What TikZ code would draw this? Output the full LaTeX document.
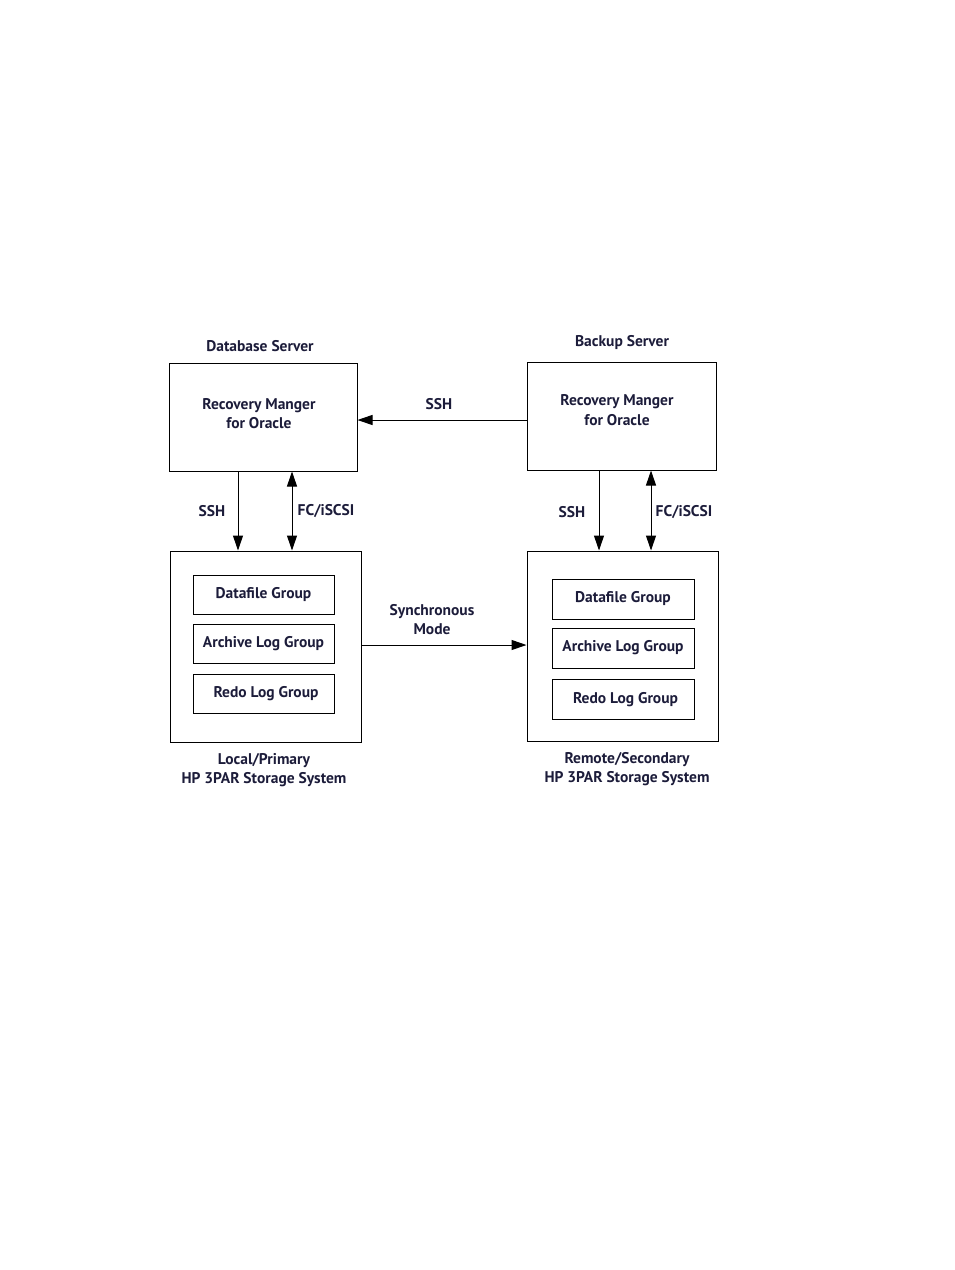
\documentclass[tikz,border=0pt]{standalone}
\usepackage{fontspec}
\setmainfont{PT Sans}
\usepackage{tikz}
\usetikzlibrary{arrows.meta}
\definecolor{textnavy}{HTML}{1C1C3A}

\tikzset{
  lbl/.style={font=\fontsize{15.5}{19.5}\selectfont\bfseries, text=textnavy, align=center, inner sep=0pt},
  outerbox/.style={draw, line width=1pt, inner sep=0pt},
  groupbox/.style={draw, line width=1pt, minimum width=141pt, minimum height=39pt, inner sep=0pt,
                   font=\fontsize{15.5}{17}\selectfont\bfseries, text=textnavy},
  arr/.style={line width=1pt, -{Triangle[length=15pt,width=10pt]}},
  darr/.style={line width=1pt, {Triangle[length=15pt,width=10pt]}-{Triangle[length=15pt,width=10pt]}}
}

\begin{document}
\begin{tikzpicture}[x=1pt, y=-1pt]
  \useasboundingbox (0,0) rectangle (954,1270);

  % servers
  \node[outerbox, minimum width=188pt, minimum height=108pt] (dbsrv) at (263,417) {};
  \node[lbl] (dbrman) at (259,413.5) {Recovery Manger\\for Oracle};
  \node[lbl] (dbtitle) at (260,346) {Database Server};

  \node[outerbox, minimum width=189pt, minimum height=108pt] (bksrv) at (621.5,416) {};
  \node[lbl] (bkrman) at (617,410) {Recovery Manger\\for Oracle};
  \node[lbl] (bktitle) at (622,343) {Backup Server};

  % storage systems
  \node[outerbox, minimum width=191pt, minimum height=191pt] (locsto) at (265.5,646.5) {};
  \node[groupbox] (locdata) at (263.5,594.5) {Datafile Group};
  \node[groupbox] (locarch) at (263.5,643.5) {Archive Log Group};
  \node[groupbox] (locredo) at (263.5,693.5) {\hspace{5pt}Redo Log Group};
  \node[lbl] (loclabel) at (264,770) {Local/Primary\\HP 3PAR Storage System};

  \node[outerbox, minimum width=191pt, minimum height=190pt] (remsto) at (622.5,646) {};
  \node[groupbox, minimum width=142pt, minimum height=40pt] (remdata) at (623,599) {Datafile Group};
  \node[groupbox, minimum width=142pt, minimum height=40pt] (remarch) at (623,648) {Archive Log Group};
  \node[groupbox, minimum width=142pt, minimum height=40pt] (remredo) at (623,699.5) {\hspace{5pt}Redo Log Group};
  \node[lbl] (remlabel) at (627,769) {Remote/Secondary\\HP 3PAR Storage System};

  % connectors
  \draw[arr] (bksrv.west |- 0,420) -- (dbsrv.east |- 0,420);
  \node[lbl] (sshtop) at (439,404) {SSH};

  \draw[arr] (dbsrv.south -| 238,0) -- (locsto.north -| 238,0);
  \node[lbl] (sshloc) at (212,511) {SSH};
  \draw[darr] (dbsrv.south -| 292,0) -- (locsto.north -| 292,0);
  \node[lbl] (fcloc) at (326,511) {FC/iSCSI};

  \draw[arr] (bksrv.south -| 599,0) -- (remsto.north -| 599,0);
  \node[lbl] (sshrem) at (572,512) {SSH};
  \draw[darr] (bksrv.south -| 651,0) -- (remsto.north -| 651,0);
  \node[lbl] (fcrem) at (684,512) {FC/iSCSI};

  \draw[arr] (locsto.east |- 0,645) -- (remsto.west |- 0,645);
  \node[lbl] (syncmode) at (432,619.5) {Synchronous\\Mode};
\end{tikzpicture}
\end{document}
